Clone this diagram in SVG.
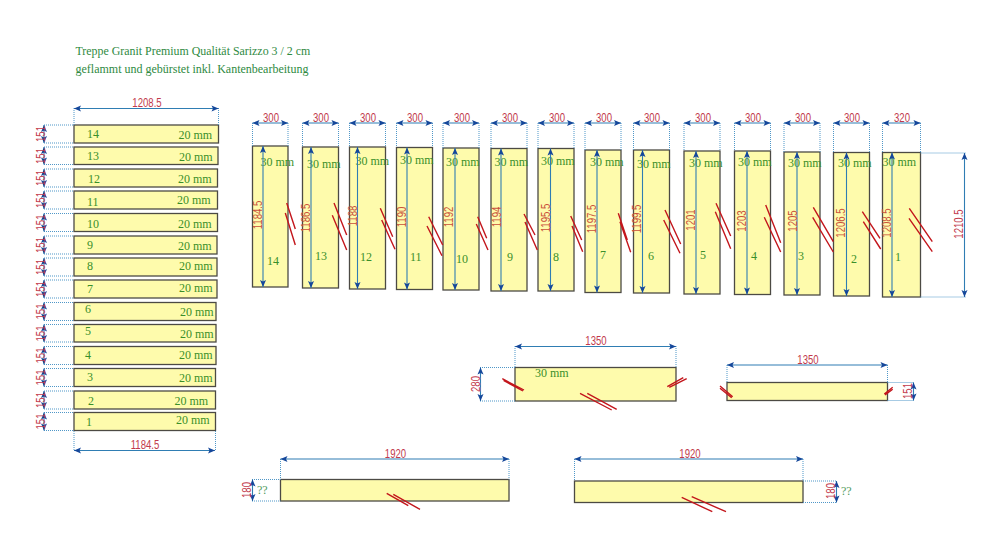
<svg xmlns="http://www.w3.org/2000/svg" width="1000" height="558" viewBox="0 0 1000 558">
<style>
.s{fill:#fefbac;stroke:#4c4a44;stroke-width:1.3}
.g{font-family:"Liberation Serif",serif;font-size:12px;fill:#3a8f2a}
.t{font-family:"Liberation Serif",serif;font-size:11.9px;fill:#2f8a3f}
.q{fill:#4f9a5c}
.d{font-family:"Liberation Sans",sans-serif;font-size:9.6px;fill:#c23a4c;text-anchor:middle}
.o{font-family:"Liberation Sans",sans-serif;font-size:9.6px;fill:#c9503a;text-anchor:middle}
.l{fill:none;stroke:#2f7db3;stroke-width:1.1;marker-start:url(#a);marker-end:url(#a)}
.e{fill:none;stroke:#4f97c8;stroke-width:1;stroke-dasharray:1 1}
.b{fill:none;stroke:#c3161c;stroke-width:1.4}
</style>
<defs>
<marker id="a" markerUnits="userSpaceOnUse" markerWidth="9" markerHeight="7" refX="8" refY="3.500" orient="auto-start-reverse"><path d="M8 3.500L1 .5L2.500 3.500L1 6.500Z" fill="#15479a"/></marker>
</defs>
<rect width="1000" height="558" fill="#fff"/>
<g id="title">
<text class="t" x="75.5" y="55">Treppe Granit Premium Qualität Sarizzo 3 / 2 cm</text>
<text class="t" x="75.5" y="73" style="font-size:12px">geflammt und gebürstet inkl. Kantenbearbeitung</text>
</g>
<g id="treads">
<g id="tread-14"><rect class="s" x="74" y="125" width="144.5" height="18"/><text class="g" x="87" y="138">14</text><text class="g" x="178.5" y="139">20 mm</text></g>
<g id="tread-13"><rect class="s" x="74" y="147" width="144" height="17.5"/><text class="g" x="87" y="160">13</text><text class="g" x="179" y="161">20 mm</text></g>
<g id="tread-12"><rect class="s" x="74" y="169" width="143.5" height="18"/><text class="g" x="88" y="183">12</text><text class="g" x="178" y="183">20 mm</text></g>
<g id="tread-11"><rect class="s" x="74" y="191" width="143.5" height="18"/><text class="g" x="87" y="206">11</text><text class="g" x="177" y="204">20 mm</text></g>
<g id="tread-10"><rect class="s" x="74" y="213.5" width="143.5" height="18"/><text class="g" x="87" y="228">10</text><text class="g" x="178" y="228">20 mm</text></g>
<g id="tread-9"><rect class="s" x="74" y="236" width="143" height="18"/><text class="g" x="87" y="249">9</text><text class="g" x="178" y="250">20 mm</text></g>
<g id="tread-8"><rect class="s" x="74" y="258" width="143" height="18"/><text class="g" x="87" y="270">8</text><text class="g" x="179" y="270">20 mm</text></g>
<g id="tread-7"><rect class="s" x="74" y="280" width="143" height="18"/><text class="g" x="87" y="293">7</text><text class="g" x="179" y="292">20 mm</text></g>
<g id="tread-6"><rect class="s" x="74" y="302.5" width="142" height="18"/><text class="g" x="85" y="313">6</text><text class="g" x="180" y="316">20 mm</text></g>
<g id="tread-5"><rect class="s" x="74" y="324.5" width="142" height="17.5"/><text class="g" x="85" y="335">5</text><text class="g" x="180" y="338">20 mm</text></g>
<g id="tread-4"><rect class="s" x="74" y="346.5" width="142" height="18"/><text class="g" x="85" y="359">4</text><text class="g" x="179" y="359">20 mm</text></g>
<g id="tread-3"><rect class="s" x="74" y="368.5" width="141.5" height="18"/><text class="g" x="87" y="381">3</text><text class="g" x="179" y="382">20 mm</text></g>
<g id="tread-2"><rect class="s" x="74" y="391" width="141.5" height="18"/><text class="g" x="88" y="405">2</text><text class="g" x="174.5" y="405">20 mm</text></g>
<g id="tread-1"><rect class="s" x="74" y="412.5" width="141.5" height="18"/><text class="g" x="86" y="426">1</text><text class="g" x="176" y="424">20 mm</text></g>
</g>
<g id="risers">
<g id="riser-14"><rect class="s" x="252.5" y="146" width="35.5" height="141"/><text class="g" x="260.5" y="166">30 mm</text><text class="g" x="267" y="265">14</text></g>
<g id="riser-13"><rect class="s" x="302.5" y="147" width="36" height="141"/><text class="g" x="307" y="168">30 mm</text><text class="g" x="315" y="260">13</text></g>
<g id="riser-12"><rect class="s" x="349.5" y="147" width="36" height="142"/><text class="g" x="355.5" y="165">30 mm</text><text class="g" x="360" y="261">12</text></g>
<g id="riser-11"><rect class="s" x="396.5" y="147.5" width="36" height="142"/><text class="g" x="400" y="164">30 mm</text><text class="g" x="410" y="261">11</text></g>
<g id="riser-10"><rect class="s" x="443" y="148" width="36" height="142"/><text class="g" x="446" y="166">30 mm</text><text class="g" x="456" y="263">10</text></g>
<g id="riser-9"><rect class="s" x="491" y="148.5" width="36" height="142.5"/><text class="g" x="494.5" y="166">30 mm</text><text class="g" x="507" y="261">9</text></g>
<g id="riser-8"><rect class="s" x="538" y="148.5" width="36" height="142.5"/><text class="g" x="541" y="165">30 mm</text><text class="g" x="553" y="261">8</text></g>
<g id="riser-7"><rect class="s" x="585" y="150" width="36" height="142.5"/><text class="g" x="590" y="166">30 mm</text><text class="g" x="600" y="259">7</text></g>
<g id="riser-6"><rect class="s" x="633.5" y="150" width="36" height="143"/><text class="g" x="637" y="168">30 mm</text><text class="g" x="648" y="260">6</text></g>
<g id="riser-5"><rect class="s" x="684" y="151" width="36" height="143"/><text class="g" x="689" y="167">30 mm</text><text class="g" x="700" y="259">5</text></g>
<g id="riser-4"><rect class="s" x="734.5" y="151" width="36" height="143.5"/><text class="g" x="738" y="166">30 mm</text><text class="g" x="751" y="260">4</text></g>
<g id="riser-3"><rect class="s" x="784" y="152" width="36" height="143"/><text class="g" x="788" y="167">30 mm</text><text class="g" x="798" y="260">3</text></g>
<g id="riser-2"><rect class="s" x="833.5" y="152.5" width="36" height="143.5"/><text class="g" x="838" y="167">30 mm</text><text class="g" x="851" y="263">2</text></g>
<g id="riser-1"><rect class="s" x="882.5" y="152.5" width="38" height="144.5"/><text class="g" x="882.5" y="166">30 mm</text><text class="g" x="895" y="261">1</text></g>
</g>
<g id="landing-a"><rect class="s" x="515" y="367.5" width="161" height="33.5"/><text class="g" x="535" y="377">30 mm</text></g>
<g id="landing-b"><rect class="s" x="727" y="382.5" width="160.500" height="18"/></g>
<g id="plinth-left"><rect class="s" x="280.5" y="479.5" width="228.5" height="21.5"/><text class="g q" x="257" y="494">??</text></g>
<g id="plinth-right"><rect class="s" x="574.5" y="481" width="228.5" height="21.5"/><text class="g q" x="841" y="495">??</text></g>
<g id="connectors">
<path class="e" d="M74 108V125M218.500 108V125M74 431V450M215.500 431V450M44 125H74M44 143H74M44 147H74M44 164.500H74M44 169H74M44 187H74M44 191H74M44 209H74M44 213.500H74M44 231.500H74M44 236H74M44 254H74M44 258H74M44 276H74M44 280H74M44 298H74M44 302.500H74M44 320.500H74M44 324.500H74M44 342H74M44 346.500H74M44 364.500H74M44 368.500H74M44 386.500H74M44 391H74M44 409H74M44 412.500H74M44 430.500H74"/>
<path class="l" d="M74 108.500H218.500"/><path class="l" d="M74 450.500H215"/>
<path class="l" d="M44 125V143"/><path class="l" d="M44 147V164.500"/><path class="l" d="M44 169V187"/><path class="l" d="M44 191V209"/><path class="l" d="M44 213.500V231.500"/><path class="l" d="M44 236V254"/><path class="l" d="M44 258V276"/><path class="l" d="M44 280V298"/><path class="l" d="M44 302.500V320.500"/><path class="l" d="M44 324.500V342"/><path class="l" d="M44 346.500V364.500"/><path class="l" d="M44 368.500V386.500"/><path class="l" d="M44 391V409"/><path class="l" d="M44 412.500V430.500"/>
<path class="e" d="M252.500 123V146M288 123V146M302.500 123V147M338.500 123V147M349.500 123V147M385.500 123V147M396.500 123V147M432.500 123V147M443 123V148M479 123V148M491 123V148M527 123V148M538 123V148M574 123V148M585 123V150M621 123V150M633.500 123V150M669.500 123V150M684 123V151M720 123V151M734.500 123V151M770.500 123V151M784 123V152M820 123V152M833.500 123V152M869.500 123V152M882.500 123V152M920.500 123V152M920.500 153H966M920.500 297H966"/>
<path class="l" d="M252.500 123H288"/><path class="l" d="M302.500 123H338.500"/><path class="l" d="M349.500 123H385.500"/><path class="l" d="M396.500 123H432.500"/><path class="l" d="M443 123H479"/><path class="l" d="M491 123H527"/><path class="l" d="M538 123H574"/><path class="l" d="M585 123H621"/><path class="l" d="M633.500 123H669.500"/><path class="l" d="M684 123H720"/><path class="l" d="M734.500 123H770.500"/><path class="l" d="M784 123H820"/><path class="l" d="M833.500 123H869.500"/><path class="l" d="M882.500 123H920.500"/>
<path class="l" d="M263 146V287"/><path class="l" d="M311 147V288"/><path class="l" d="M357.500 147V289"/><path class="l" d="M407 147.500V289.500"/><path class="l" d="M455 148V290"/><path class="l" d="M501 148.500V291"/><path class="l" d="M550.500 148.500V291"/><path class="l" d="M597 150V292.500"/><path class="l" d="M642.500 150V293"/><path class="l" d="M696 151V294"/><path class="l" d="M747 151V294.500"/><path class="l" d="M797 152V295"/><path class="l" d="M846.500 152.500V296"/><path class="l" d="M892 152.500V297"/><path class="l" d="M964.500 153V297"/>
<path class="e" d="M515 346V367.500M676 346V367.500M480 367.500H515M480 401H515M727 365V382.500M887.500 365V382.500M887.500 382.500H914M887.500 400.500H914M280.500 459V479.500M509 459V479.500M252 479.500H280.500M252 501H280.500M574.500 459V481M803 459V481M803 481H837M803 502.500H837"/>
<path class="l" d="M515 346.500H676"/><path class="l" d="M480.500 367.500V401"/><path class="l" d="M727 365H887.500"/><path class="l" d="M913.500 382.500V400.500"/><path class="l" d="M280.500 459H509"/><path class="l" d="M252.500 479.500V501"/><path class="l" d="M574.500 459H803"/><path class="l" d="M836.500 481V502.500"/>
</g>
<g id="breaks">
<path class="b" d="M286.700 203L295.300 229M285.300 213L295.300 245M334 203L346.700 235M332.300 215.300L346.700 250M380.300 208.300L392.700 236.700M381.700 220L395 249.300M428.700 216.700L442.700 245M427 226L442 255.700M477.700 216.700L486.700 238.300M476.300 224L488 250M524 214L535 235M525 222L537.300 250M570.700 216L581.700 240M572 226L582.700 251.700M618.300 213.300L627.300 240M620 221.700L630.700 252.300M665 210L680.700 244M663.700 220L680 253.300M716 203.300L730.700 236M715.300 211.700L730.700 248.700M765.700 205L780.700 242.700M764.300 217.300L780.700 252M813.300 207.300L833.300 241.700M812.700 217.300L833.300 252M862.300 211.700L880 238.300M863.300 221.700L880.700 249M909.300 208.300L932.300 241.700M909 218.300L932.300 251.700"/>
<path class="b" d="M502.300 378.700L524 390M503.500 380.500L523 391M667.300 386.700L683.300 377.700M669.300 387.300L686.700 378.700M580 393.300L611.700 410M587.300 393.300L616.700 409.300M720 386L732.700 396.700M720 388.300L731.700 397.700M884.300 394L892.700 387.300M885 395L892.700 389.300M386.700 493.300L408.300 505.700M393.300 494.300L420 509.300M681.700 497.300L712.300 511.700M691.700 496.700L726 511.700"/>
</g>
<g id="dimension-labels">
<text class="d" transform="translate(147 107) scale(1 1.25)">1208.5</text><text class="d" transform="translate(145 449) scale(1 1.25)">1184.5</text>
<text class="d" transform="translate(44.500 134) rotate(-90) scale(1 1.25)">151</text><text class="d" transform="translate(44.500 156) rotate(-90) scale(1 1.25)">151</text><text class="d" transform="translate(44.500 178) rotate(-90) scale(1 1.25)">151</text><text class="d" transform="translate(44.500 200) rotate(-90) scale(1 1.25)">151</text><text class="d" transform="translate(44.500 222.500) rotate(-90) scale(1 1.25)">151</text><text class="d" transform="translate(44.500 245) rotate(-90) scale(1 1.25)">151</text><text class="d" transform="translate(44.500 267) rotate(-90) scale(1 1.25)">151</text><text class="d" transform="translate(44.500 289) rotate(-90) scale(1 1.25)">151</text><text class="d" transform="translate(44.500 311.500) rotate(-90) scale(1 1.25)">151</text><text class="d" transform="translate(44.500 333.500) rotate(-90) scale(1 1.25)">151</text><text class="d" transform="translate(44.500 355.500) rotate(-90) scale(1 1.25)">151</text><text class="d" transform="translate(44.500 377.500) rotate(-90) scale(1 1.25)">151</text><text class="d" transform="translate(44.500 400) rotate(-90) scale(1 1.25)">151</text><text class="d" transform="translate(44.500 421.500) rotate(-90) scale(1 1.25)">151</text>
<text class="d" transform="translate(271 122) scale(1 1.25)">300</text><text class="d" transform="translate(321 122) scale(1 1.25)">300</text><text class="d" transform="translate(368 122) scale(1 1.25)">300</text><text class="d" transform="translate(415 122) scale(1 1.25)">300</text><text class="d" transform="translate(462 122) scale(1 1.25)">300</text><text class="d" transform="translate(510 122) scale(1 1.25)">300</text><text class="d" transform="translate(557 122) scale(1 1.25)">300</text><text class="d" transform="translate(604 122) scale(1 1.25)">300</text><text class="d" transform="translate(652 122) scale(1 1.25)">300</text><text class="d" transform="translate(703 122) scale(1 1.25)">300</text><text class="d" transform="translate(753 122) scale(1 1.25)">300</text><text class="d" transform="translate(803 122) scale(1 1.25)">300</text><text class="d" transform="translate(852 122) scale(1 1.25)">300</text><text class="d" transform="translate(902 122) scale(1 1.25)">320</text>
<text class="o" transform="translate(262 215) rotate(-90) scale(1 1.25)">1184.5</text><text class="o" transform="translate(310 218) rotate(-90) scale(1 1.25)">1186.5</text><text class="o" transform="translate(356.500 216) rotate(-90) scale(1 1.25)">1188</text><text class="o" transform="translate(406 217) rotate(-90) scale(1 1.25)">1190</text><text class="o" transform="translate(453 217) rotate(-90) scale(1 1.25)">1192</text><text class="o" transform="translate(501 217) rotate(-90) scale(1 1.25)">1194</text><text class="o" transform="translate(550 218) rotate(-90) scale(1 1.25)">1195.5</text><text class="o" transform="translate(596 219) rotate(-90) scale(1 1.25)">1197.5</text><text class="o" transform="translate(641 219) rotate(-90) scale(1 1.25)">1199.5</text><text class="o" transform="translate(695 220) rotate(-90) scale(1 1.25)">1201</text><text class="o" transform="translate(746 221) rotate(-90) scale(1 1.25)">1203</text><text class="o" transform="translate(797 221) rotate(-90) scale(1 1.25)">1205</text><text class="o" transform="translate(845 223) rotate(-90) scale(1 1.25)">1206.5</text><text class="o" transform="translate(891 223) rotate(-90) scale(1 1.25)">1208.5</text>
<text class="d" transform="translate(963 224) rotate(-90) scale(1 1.25)">1210.5</text>
<text class="d" transform="translate(596 345) scale(1 1.25)">1350</text><text class="d" transform="translate(480 384) rotate(-90) scale(1 1.25)">280</text>
<text class="d" transform="translate(808 364) scale(1 1.25)">1350</text><text class="d" transform="translate(912 391) rotate(-90) scale(1 1.25)">151</text>
<text class="d" transform="translate(395.500 458) scale(1 1.25)">1920</text><text class="d" transform="translate(251 490) rotate(-90) scale(1 1.25)">180</text>
<text class="d" transform="translate(690 458) scale(1 1.25)">1920</text><text class="d" transform="translate(834.500 491) rotate(-90) scale(1 1.25)">180</text>
</g>
</svg>
